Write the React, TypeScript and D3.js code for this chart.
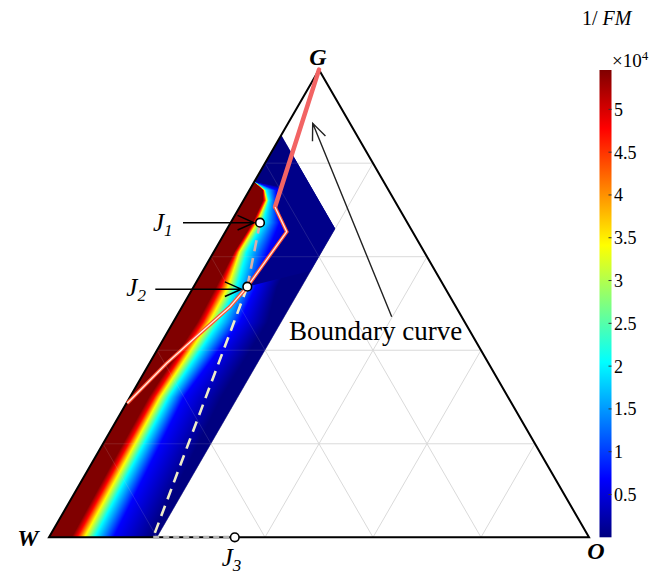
import React from "react";
import * as d3 from "d3";

// 1/FM map on the W-G-O ternary diagram, values in 1e4
const fmMax = 5.46;
const jetAnchors = [0, 0.125, 0.375, 0.625, 0.875, 1];
const jetColors = ["#000080", "#0000ff", "#00ffff", "#ffff00", "#ff0000", "#800000"];

// value levels (x1e4) and, per G-row, the O fraction where the map reaches each level
const levels = [5.46, 4.78, 3.41, 2.05, 0.68, 0];
const rowG = [0, 0.15, 0.3, 0.46, 0.535, 0.61, 0.672, 0.72, 0.742, 0.76, 0.87];
const rowO = [
  [0.042, 0.052, 0.066, 0.085, 0.12, 0.19],
  [0.038, 0.048, 0.061, 0.078, 0.11, 0.18],
  [0.035, 0.045, 0.056, 0.072, 0.1, 0.17],
  [0.045, 0.055, 0.067, 0.085, 0.123, 0.175],
  [0.042, 0.051, 0.064, 0.08, 0.115, 0.155],
  [0.038, 0.042, 0.048, 0.061, 0.1, 0.15],
  [0.041, 0.044, 0.049, 0.06, 0.091, 0.14],
  [0.036, 0.039, 0.043, 0.047, 0.062, 0.1],
  [0.025, 0.026, 0.028, 0.031, 0.05, 0.09],
  [0, 0, 0, 0, 0, 0],
  [0, 0, 0, 0, 0, 0],
];
const regionOMax = 0.2;
const regionWMin = 0.14;

// boundary curve (G -> W side)
const boundaryO = [0, 0.0654, 0.1135, 0.0993, 0.0887, 0.0615, 0.0319, 0.0017];
const boundaryG = [1, 0.7063, 0.6535, 0.5359, 0.4931, 0.4362, 0.3721, 0.2865];

// path J1 -> J2 -> W-O side
const pathO = [0.0544, 0.0993, 0.193];
const pathG = [0.6727, 0.5359, 0];

const jNames = ["1", "2", "3"];
const jO = [0.0544, 0.0993, 0.344];
const jG = [0.6727, 0.5359, 0];

const cbTicks = [0.5, 1, 1.5, 2, 2.5, 3, 3.5, 4, 4.5, 5];
const gridFracs = [0.2, 0.4, 0.6, 0.8];

const serif = "'Liberation Serif', 'Times New Roman', serif";

function arrow(x1: number, y1: number, x2: number, y2: number, len = 18, ang = 0.42) {
  const a = Math.atan2(y2 - y1, x2 - x1);
  const w1 = [x2 - len * Math.cos(a - ang), y2 - len * Math.sin(a - ang)];
  const w2 = [x2 - len * Math.cos(a + ang), y2 - len * Math.sin(a + ang)];
  return `M${x1},${y1}L${x2},${y2}M${w1[0]},${w1[1]}L${x2},${y2}L${w2[0]},${w2[1]}`;
}

export default function App() {
  const xs = d3.scaleLinear().domain([0, 1]).range([49, 589]);
  const ys = d3.scaleLinear().domain([0, 1]).range([537.3, 69.65]);
  const P = (o: number, g: number): [number, number] => [xs(o + g / 2), ys(g)];
  const line = d3.line();
  const toPath = (os: number[], gs: number[]) => line(os.map((o, i) => P(o, gs[i]))) as string;

  const jet = d3
    .scaleLinear<string>()
    .domain(jetAnchors.map((t) => t * fmMax))
    .range(jetColors)
    .clamp(true);

  // thin horizontal strips, each with a gradient along O
  const strips: { yy: number; xl: number; os: number[] }[] = [];
  const yTop = ys(1 - regionWMin);
  const yBot = ys(0);
  for (let yy = yTop; yy < yBot; yy += 1) {
    const g = ys.invert(yy + 0.5);
    let i = d3.bisectRight(rowG, g) - 1;
    i = Math.max(0, Math.min(rowG.length - 2, i));
    const t = Math.max(0, Math.min(1, (g - rowG[i]) / (rowG[i + 1] - rowG[i])));
    const os = rowO[i].map((o, k) => o + (rowO[i + 1][k] - o) * t);
    strips.push({ yy, xl: xs(g / 2), os });
  }
  const unit = xs(1) - xs(0);

  const clipD =
    toPath([0, regionOMax, regionOMax, 0], [0, 0, 1 - regionWMin - regionOMax, 1 - regionWMin]) + "Z";

  const darkD =
    toPath(
      [boundaryO[3], boundaryO[2], boundaryO[1], boundaryO[0], regionOMax, regionOMax],
      [boundaryG[3], boundaryG[2], boundaryG[1], boundaryG[0], 1 - regionOMax, 0.57]
    ) + "Z";

  const gridLines: string[] = [];
  gridFracs.forEach((f) => {
    gridLines.push(toPath([0, 1 - f], [f, f]));
    gridLines.push(toPath([f, f], [0, 1 - f]));
    gridLines.push(toPath([1 - f, 0], [0, 1 - f]));
  });

  const triD = toPath([0, 1, 0], [0, 0, 1]) + "Z";

  const upperB = toPath(boundaryO.slice(0, 2), boundaryG.slice(0, 2));
  const lowerB = toPath(boundaryO.slice(1), boundaryG.slice(1));

  const J = jO.map((o, i) => P(o, jG[i]));
  const G = P(0, 1);
  const Wp = P(0, 0);
  const Op = P(1, 0);

  const cb = d3.scaleLinear().domain([0, fmMax]).range([537.3, 70]);
  const cbX = 599.5;
  const cbW = 12;

  return (
    <svg width={654} height={575} style={{ position: "absolute", left: 0, top: 0, background: "#fff" }}>
      <defs>
        <clipPath id="heatClip">
          <path d={clipD} />
        </clipPath>
        {strips.map((s, i) => (
          <linearGradient key={i} id={`hs${i}`} gradientUnits="userSpaceOnUse" x1={s.xl} x2={s.xl + unit} y1={0} y2={0}>
            {s.os.map((o, k) => (
              <stop key={k} offset={o} stopColor={jet(levels[k])} />
            ))}
          </linearGradient>
        ))}
        <linearGradient id="cbGrad" x1={0} y1={1} x2={0} y2={0}>
          {jetAnchors.map((t, k) => (
            <stop key={k} offset={t} stopColor={jetColors[k]} />
          ))}
        </linearGradient>
      </defs>

      {gridLines.map((d, i) => (
        <path key={i} d={d} stroke="#dadada" strokeWidth={1} fill="none" />
      ))}

      <g clipPath="url(#heatClip)">
        {strips.map((s, i) => (
          <rect key={i} x={s.xl - 4} y={s.yy - 0.2} width={unit * regionOMax + 8} height={1.5} fill={`url(#hs${i})`} />
        ))}
        <path d={darkD} fill={jet(0.05)} />
        {gridLines.map((d, i) => (
          <path key={i} d={d} stroke="#d0d0d0" strokeOpacity={0.15} strokeWidth={1} fill="none" />
        ))}
      </g>

      <path d={triD} fill="none" stroke="#000" strokeWidth={2} strokeLinejoin="miter" />

      <path d={toPath([pathO[2], jO[2]], [pathG[2], jG[2]])} stroke="#b0b0b0" strokeWidth={3} strokeDasharray="6 4" fill="none" />
      <path d={toPath(pathO.slice(0, 2), pathG.slice(0, 2))} stroke="#d8b0ac" strokeWidth={2.6} strokeDasharray="11 7" fill="none" />
      <path d={toPath(pathO.slice(1), pathG.slice(1))} stroke="#efecc8" strokeWidth={2.6} strokeDasharray="11 7" fill="none" />

      <path d={upperB} stroke="#f26464" strokeWidth={4.5} strokeLinecap="round" fill="none" />
      <path d={lowerB} stroke="#ff5030" strokeWidth={3.6} strokeLinejoin="miter" fill="none" />
      <path d={lowerB} stroke="#ffeae2" strokeWidth={1.3} fill="none" />

      {J.map(([x, y], i) => (
        <circle key={i} cx={x} cy={y} r={4.3} fill="#fff" stroke="#000" strokeWidth={1.6} />
      ))}

      <path d={arrow(J[0][0] - 77, J[0][1], J[0][0] - 6, J[0][1])} stroke="#000" strokeWidth={1.5} fill="none" />
      <path d={arrow(J[1][0] - 92, J[1][1] + 2.5, J[1][0] - 6, J[1][1] + 2.5)} stroke="#000" strokeWidth={1.5} fill="none" />
      <path d={arrow(391.7, 316.7, 312.7, 123.3, 18, 0.4)} stroke="#222" strokeWidth={1.4} fill="none" />

      <g fontFamily={serif} fontStyle="italic">
        <text x={J[0][0] - 107} y={J[0][1] + 8} fontSize={25}>
          J<tspan fontSize={17} dy={5}>{jNames[0]}</tspan>
        </text>
        <text x={J[1][0] - 121} y={J[1][1] + 9} fontSize={25}>
          J<tspan fontSize={17} dy={5}>{jNames[1]}</tspan>
        </text>
        <text x={J[2][0] - 13} y={J[2][1] + 29} fontSize={25}>
          J<tspan fontSize={17} dy={5}>{jNames[2]}</tspan>
        </text>
      </g>

      <g fontFamily={serif} fontStyle="italic" fontWeight="bold" fontSize={24} textAnchor="middle">
        <text x={G[0] - 1} y={G[1] - 5}>G</text>
        <text x={Wp[0] - 21} y={Wp[1] + 9}>W</text>
        <text x={Op[0] + 7} y={Op[1] + 22}>O</text>
      </g>

      <text x={289} y={340} fontFamily={serif} fontSize={27}>
        Boundary curve
      </text>

      <rect x={cbX} y={cb(fmMax)} width={cbW} height={cb(0) - cb(fmMax)} fill="url(#cbGrad)" />
      {cbTicks.map((t) => (
        <g key={t}>
          <line x1={cbX + cbW - 3} x2={cbX + cbW} y1={cb(t)} y2={cb(t)} stroke="#333" strokeWidth={1} />
          <text x={cbX + cbW + 2.5} y={cb(t)} dy="0.36em" fontFamily={serif} fontSize={18}>
            {t}
          </text>
        </g>
      ))}
      <text x={612} y={67} fontFamily={serif} fontSize={19}>
        ×10<tspan fontSize={13} dy={-7}>4</tspan>
      </text>
      <text x={582} y={25} fontFamily={serif} fontSize={20}>
        1/ <tspan fontStyle="italic">FM</tspan>
      </text>
    </svg>
  );
}
